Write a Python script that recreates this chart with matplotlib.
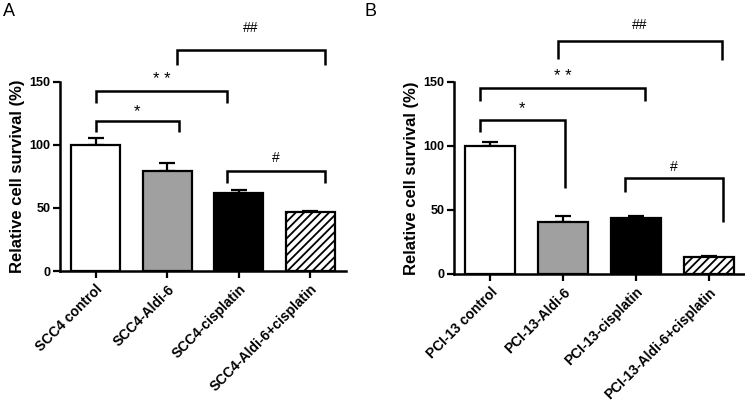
import matplotlib
matplotlib.use("Agg")
import matplotlib.pyplot as plt

plt.rcParams['font.family'] = ['Liberation Sans', 'DejaVu Sans']
plt.rcParams['hatch.linewidth'] = 1.3

# ---- data ----
labels_a = ["SCC4 control", "SCC4-Aldi-6", "SCC4-cisplatin", "SCC4-Aldi-6+cisplatin"]
values_a = [100.0, 79.5, 61.5, 46.7]
errors_a = [5.0, 5.8, 3.0, 1.0]

labels_b = ["PCI-13 control", "PCI-13-Aldi-6", "PCI-13-cisplatin", "PCI-13-Aldi-6+cisplatin"]
values_b = [100.0, 40.9, 43.5, 13.0]
errors_b = [2.6, 4.4, 1.8, 1.0]

yticks = [0, 50, 100, 150]
ylabel = "Relative cell survival (%)"

# significance brackets: (x_left, x_right, y_top, y_left_end, y_right_end, label, label_y)
brackets_a = [
    (0.00, 1.16, 119.0, 110.0, 110.0, "*", 126.5),
    (0.00, 1.84, 142.3, 133.0, 133.0, "**", 151.5),
    (1.83, 3.20, 79.4, 69.6, 69.6, "#", 89.7),
    (1.13, 3.20, 175.4, 163.5, 163.5, "##", 192.6),
]
brackets_b = [
    (-0.14, 1.02, 119.8, 111.0, 67.0, "*", 129.0),
    (-0.14, 2.12, 145.0, 135.0, 134.6, "**", 154.0),
    (1.85, 3.20, 74.7, 64.3, 40.9, "#", 83.8),
    (0.93, 3.18, 181.5, 167.7, 167.0, "##", 194.5),
]

facecolors = ["white", "#a0a0a0", "black", "white"]
hatches = [None, None, None, "////"]

W, H = 745, 403
fig = plt.figure(figsize=(W / 100, H / 100), dpi=100)

def px_axes(left, right, top, bottom):
    return fig.add_axes([left / W, 1 - bottom / H, (right - left) / W, (bottom - top) / H])

ax_a = px_axes(60, 346, 81.6, 271)
ax_b = px_axes(454, 745, 81.7, 274)

def draw(ax, labels, values, errors, brackets):
    x = list(range(len(values)))
    bars = ax.bar(x, values, width=0.69, color=facecolors, edgecolor="black",
                  linewidth=1.6, zorder=2)
    for b, h in zip(bars, hatches):
        if h:
            b.set_hatch(h)
    ax.errorbar(x, values, yerr=[[0] * len(errors), errors], fmt="none",
                ecolor="black", elinewidth=1.6, capsize=5.5, capthick=1.6, zorder=1)
    ax.set_xlim(-0.5, 3.5)
    ax.set_ylim(0, 150)
    ax.set_yticks(yticks)
    ax.set_yticklabels([str(t) for t in yticks], fontsize=9, fontweight="bold")
    ax.set_xticks(x)
    ax.set_xticklabels(labels, rotation=45, ha="right", va="top",
                       rotation_mode="anchor", fontsize=10, fontweight="bold")
    ax.set_ylabel(ylabel, fontsize=12, fontweight="bold", labelpad=3)
    for s in ["top", "right"]:
        ax.spines[s].set_visible(False)
    for s in ["left", "bottom"]:
        ax.spines[s].set_linewidth(1.8)
    ax.tick_params(axis="both", width=1.6, length=5, direction="out", pad=2)
    ax.tick_params(axis="x", length=5, pad=3)
    for x0, x1, yt, yl, yr, lab, ly in brackets:
        ax.plot([x0, x0, x1, x1], [yl, yt, yt, yr], color="black", lw=1.8,
                clip_on=False, solid_capstyle="butt", solid_joinstyle="miter", zorder=3)
        ax.text((x0 + x1) / 2, ly, " ".join(lab) if "*" in lab else lab,
                ha="center", va="center",
                fontsize=12 if "*" in lab else 10, clip_on=False)

draw(ax_a, labels_a, values_a, errors_a, brackets_a)
draw(ax_b, labels_b, values_b, errors_b, brackets_b)

fig.text(3 / W, 1 - 3 / H, "A", fontsize=13, ha="left", va="top")
fig.text(364 / W, 1 - 3 / H, "B", fontsize=13, ha="left", va="top")

fig.savefig("out.png", dpi=100)
